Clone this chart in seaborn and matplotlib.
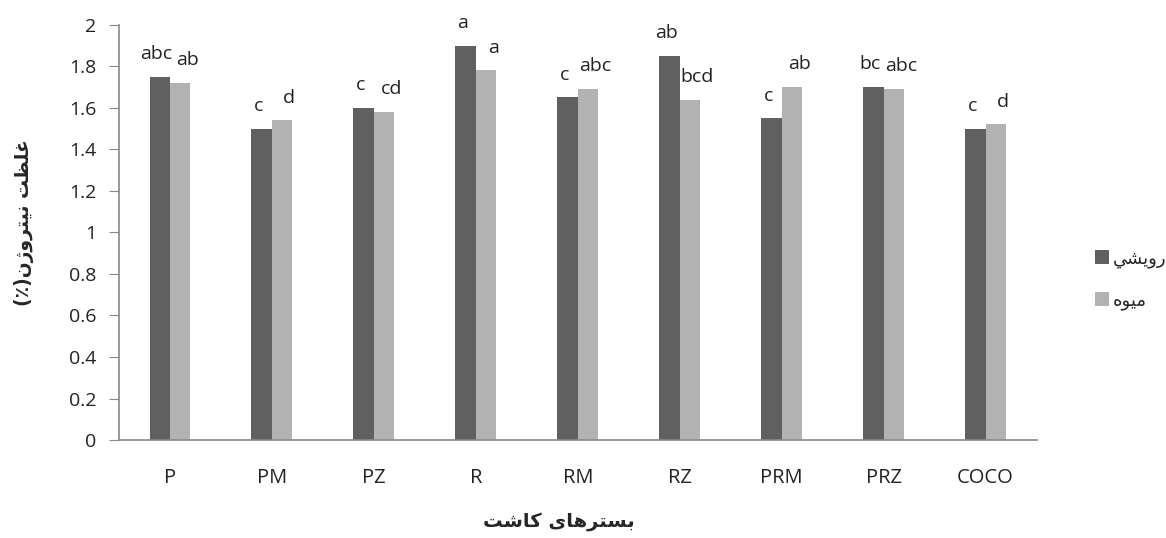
import pandas as pd
import matplotlib
matplotlib.use("Agg")
import matplotlib.pyplot as plt
from matplotlib.patches import Patch
import seaborn as sns


# data
beds = ["P", "PM", "PZ", "R", "RM", "RZ", "PRM", "PRZ", "COCO"]
vegetative = [1.75, 1.50, 1.60, 1.90, 1.65, 1.85, 1.55, 1.70, 1.50]
fruit = [1.72, 1.54, 1.58, 1.78, 1.69, 1.64, 1.70, 1.69, 1.52]
veg_letters = ["abc", "c", "c", "a", "c", "ab", "c", "bc", "c"]
fruit_letters = ["ab", "d", "cd", "a", "abc", "bcd", "ab", "abc", "d"]
series_names = ["رويشي", "ميوه"]
y_ticks = [0, 0.2, 0.4, 0.6, 0.8, 1, 1.2, 1.4, 1.6, 1.8, 2]
x_title = "بسترهای کاشت"
y_title = "غلظت نيتروژن(٪)"


# matplotlib has no arabic shaping, so do it by hand with presentation forms
# letter: (isolated, final, initial, medial)
forms = {
    "ا": (0xFE8D, 0xFE8E, None, None),
    "ب": (0xFE8F, 0xFE90, 0xFE91, 0xFE92),
    "ت": (0xFE95, 0xFE96, 0xFE97, 0xFE98),
    "ر": (0xFEAD, 0xFEAE, None, None),
    "ز": (0xFEAF, 0xFEB0, None, None),
    "ژ": (0xFB8A, 0xFB8B, None, None),
    "س": (0xFEB1, 0xFEB2, 0xFEB3, 0xFEB4),
    "ش": (0xFEB5, 0xFEB6, 0xFEB7, 0xFEB8),
    "ظ": (0xFEC5, 0xFEC6, 0xFEC7, 0xFEC8),
    "غ": (0xFECD, 0xFECE, 0xFECF, 0xFED0),
    "ل": (0xFEDD, 0xFEDE, 0xFEDF, 0xFEE0),
    "م": (0xFEE1, 0xFEE2, 0xFEE3, 0xFEE4),
    "ن": (0xFEE5, 0xFEE6, 0xFEE7, 0xFEE8),
    "ه": (0xFEE9, 0xFEEA, 0xFEEB, 0xFEEC),
    "و": (0xFEED, 0xFEEE, None, None),
    "ي": (0xFEF1, 0xFEF2, 0xFEF3, 0xFEF4),
    "ی": (0xFBFC, 0xFBFD, 0xFBFE, 0xFBFF),
    "ک": (0xFB8E, 0xFB8F, 0xFB90, 0xFB91),
}


def shape(text):
    out = ""
    for i, ch in enumerate(text):
        if ch not in forms:
            out += ch
            continue
        prev = text[i - 1] if i > 0 else ""
        nxt = text[i + 1] if i < len(text) - 1 else ""
        f = forms[ch]
        prev_joins = prev in forms and forms[prev][2] is not None
        next_joins = nxt in forms and f[2] is not None
        if prev_joins and next_joins:
            code = f[3]
        elif prev_joins:
            code = f[1]
        elif next_joins:
            code = f[2]
        else:
            code = f[0]
        out += chr(code)
    out = out[::-1]
    out = out.replace("(", "\0").replace(")", "(").replace("\0", ")")
    return out


# long form table for seaborn
df = pd.DataFrame({
    "bed": beds * 2,
    "value": vegetative + fruit,
    "part": [series_names[0]] * len(beds) + [series_names[1]] * len(beds),
})

sns.set_style("white")
plt.rcParams["font.family"] = ["Open Sans", "DejaVu Sans"]

fig = plt.figure(figsize=(11.66, 5.38), dpi=100)
ax = fig.add_axes([0.102, 0.182, 0.787, 0.772])

colors = ["#606060", "#b2b2b2"]
sns.barplot(data=df, x="bed", y="value", hue="part", order=beds,
            hue_order=series_names, palette=colors, width=0.4,
            saturation=1, linewidth=0, ax=ax, legend=False)

# letters above the bars (dark ones a bit left, light ones a bit right)
letters = veg_letters + fruit_letters
shifts = [-0.03] * len(beds) + [0.07] * len(beds)
bars = [p for p in ax.patches if p.get_height() > 0]
for bar, lab, dx in zip(bars, letters, shifts):
    ax.text(bar.get_x() + bar.get_width() / 2 + dx, bar.get_height() + 0.085,
            lab, ha="center", va="baseline", fontsize=14, color="#222222")

ax.set_ylim(0, 2)
ax.set_xlim(-0.5, len(beds) - 0.5)
ax.set_yticks(y_ticks)
ax.set_yticklabels([("%g" % t) for t in y_ticks])
ax.tick_params(axis="y", labelsize=14, length=7, color="#888888",
               left=True, colors="#222222", pad=9)
ax.tick_params(axis="x", labelsize=14.5, length=0, pad=20, colors="#222222")
for s in ["top", "right"]:
    ax.spines[s].set_visible(False)
for s in ["left", "bottom"]:
    ax.spines[s].set_color("#888888")
    ax.spines[s].set_linewidth(1.2)

ax.set_xlabel("")
ax.set_ylabel("")
fig.text(0.479, 0.03, shape(x_title), ha="center", va="center", fontsize=14,
         fontweight="bold", family="DejaVu Sans")
fig.text(0.021, 0.587, shape(y_title), ha="center", va="center", fontsize=13.5,
         fontweight="bold", family="DejaVu Sans", rotation=90)

handles = [Patch(facecolor=c, edgecolor="none") for c in colors]
fig.legend(handles, [shape(n) for n in series_names], loc="center left",
           bbox_to_anchor=(0.925, 0.48), frameon=False,
           handlelength=0.8, handleheight=0.8, handletextpad=0.2,
           labelspacing=1.3, prop={"family": "DejaVu Sans", "size": 13})

fig.savefig("out.png", dpi=100)
